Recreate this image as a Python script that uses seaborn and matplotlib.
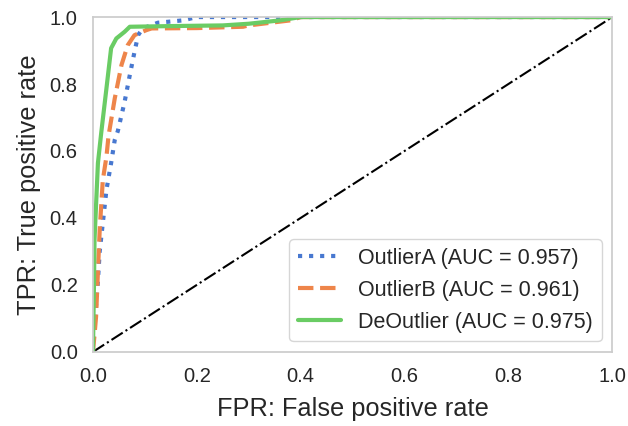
import matplotlib
matplotlib.use("Agg")
import matplotlib.pyplot as plt
import seaborn as sns

sns.set_theme(style="white", palette="muted")
plt.rcParams['font.family'] = ['Liberation Sans', 'DejaVu Sans']

# ROC points
fpr_a = [0, 0.003, 0.0095, 0.013, 0.019, 0.026, 0.035, 0.042, 0.048, 0.061, 0.071,
         0.080, 0.087, 0.096, 0.125, 0.173, 0.2, 1.0]
tpr_a = [0, 0.08, 0.21, 0.30, 0.385, 0.484, 0.564, 0.633, 0.66, 0.747, 0.827,
         0.896, 0.946, 0.966, 0.983, 0.99, 1.0, 1.0]

fpr_b = [0, 0.003, 0.006, 0.01, 0.013, 0.019, 0.026, 0.030, 0.042, 0.055, 0.067,
         0.080, 0.103, 0.113, 0.2, 0.289, 0.30, 0.337, 0.38, 0.40, 1.0]
tpr_b = [0, 0.05, 0.105, 0.255, 0.364, 0.513, 0.583, 0.645, 0.757, 0.857, 0.916,
         0.946, 0.961, 0.966, 0.967, 0.971, 0.975, 0.982, 0.99, 1.0, 1.0]

fpr_c = [0, 0.002, 0.003, 0.0096, 0.016, 0.026, 0.035, 0.045, 0.061, 0.071, 0.15,
         0.25, 0.30, 0.33, 0.36, 0.40, 1.0]
tpr_c = [0, 0.2, 0.334, 0.564, 0.655, 0.787, 0.907, 0.936, 0.956, 0.971, 0.973,
         0.975, 0.98, 0.985, 0.99, 1.0, 1.0]

labels = ["OutlierA (AUC = 0.957)", "OutlierB (AUC = 0.961)", "DeOutlier (AUC = 0.975)"]
colors = sns.color_palette("muted")

fig, ax = plt.subplots(figsize=(6.28, 4.26), dpi=100)
fig.subplots_adjust(left=0.148, right=0.975, top=0.96, bottom=0.174)

ax.plot([0, 1], [0, 1], color="black", linestyle="-.", linewidth=1.5)
sns.lineplot(x=fpr_a, y=tpr_a, ax=ax, sort=False, estimator=None, color=colors[0],
             linestyle=":", linewidth=3, label=labels[0])
sns.lineplot(x=fpr_b, y=tpr_b, ax=ax, sort=False, estimator=None, color=colors[1],
             linestyle="--", linewidth=3, label=labels[1])
sns.lineplot(x=fpr_c, y=tpr_c, ax=ax, sort=False, estimator=None, color=colors[2],
             linestyle="-", linewidth=3, label=labels[2])

ax.set_xlim(0, 1)
ax.set_ylim(0, 1)
ax.set_xlabel("FPR: False positive rate", fontsize=18.3, labelpad=8)
ax.set_ylabel("TPR: True positive rate", fontsize=18.3, labelpad=6)
ax.tick_params(labelsize=14.5, pad=5)
for s in ax.spines.values():
    s.set_color("#cccccc")
ax.legend(loc="lower right", fontsize=15.5)

plt.savefig("out.png", dpi=100)
